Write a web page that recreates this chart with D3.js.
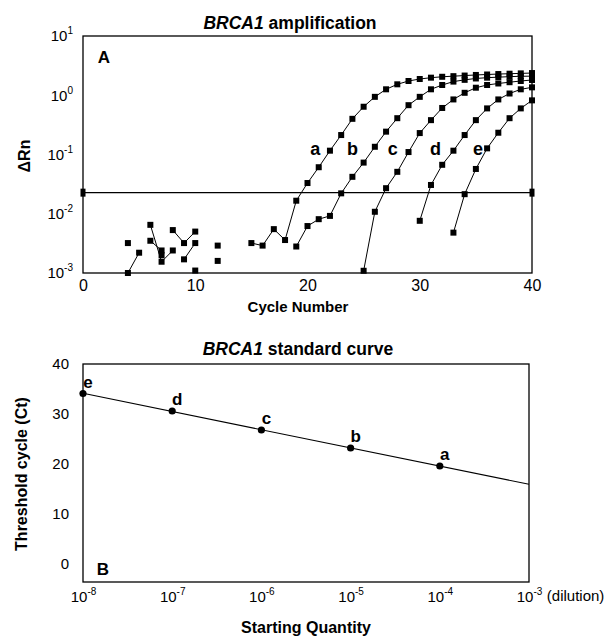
<!DOCTYPE html>
<html>
<head>
<meta charset="utf-8">
<script src="https://cdn.jsdelivr.net/npm/d3@7"></script>
<style>
  body { margin: 0; background: #fff; }
  svg text { font-family: "Liberation Sans", Arial, sans-serif; fill: #000; }
</style>
</head>
<body>
<div id="chart"></div>
<script>
// ---- panel A: amplification plot (delta Rn per cycle, null = not plotted) ----
const cycles = d3.range(1, 41);
const curveNames = ["a", "b", "c", "d", "e"];
const curveA = [null, null, null, 0.001, 0.0022, null, null, null, 0.0017, 0.0032,
                null, null, null, null, 0.0032, 0.0029, 0.0055, 0.0036, 0.0166, 0.033,
                0.061, 0.116, 0.213, 0.40, 0.64, 0.94, 1.26, 1.53, 1.74, 1.88,
                1.98, 2.05, 2.1, 2.15, 2.2, 2.24, 2.28, 2.31, 2.34, 2.37];
const curveB = [null, null, null, 0.0032, null, null, 0.0020, null, null, null,
                null, 0.0029, null, null, null, null, null, null, 0.0028, 0.0062,
                0.0081, 0.0092, 0.0221, 0.042, 0.073, 0.135, 0.243, 0.41, 0.68, 0.94,
                1.26, 1.49, 1.7, 1.82, 1.92, 1.98, 2.02, 2.06, 2.09, 2.1];
const curveC = [null, null, null, null, null, 0.0035, 0.0024, null, null, null,
                null, 0.0016, null, null, null, null, null, null, null, null,
                null, null, null, null, 0.00109, 0.0108, 0.027, 0.051, 0.11, 0.23,
                0.38, 0.61, 0.85, 1.1, 1.34, 1.49, 1.58, 1.66, 1.74, 1.81];
const curveD = [null, null, null, null, null, 0.0065, 0.00155, 0.0024, null, 0.0011,
                null, null, null, null, null, null, null, null, null, null,
                null, null, null, null, null, null, null, null, null, 0.0076,
                0.0306, 0.067, 0.116, 0.213, 0.38, 0.6, 0.85, 1.07, 1.26, 1.36];
const curveE = [null, null, null, null, null, null, null, 0.0053, 0.0032, 0.0050,
                null, null, null, null, null, null, null, null, null, null,
                null, null, null, null, null, null, null, null, null, null,
                null, null, 0.0048, 0.0214, 0.057, 0.127, 0.233, 0.41, 0.6, 0.82];
const curveValues = [curveA, curveB, curveC, curveD, curveE];
const threshold = 0.0227;
const curveLabelCycles = [20.7, 24.0, 27.6, 31.4, 35.2];
const curveLabelValue = 0.125;
const cycleTicks = [0, 10, 20, 30, 40];
const rnExponents = [-3, -2, -1, 0, 1];

// ---- panel B: standard curve ----
const stdNames = ["a", "b", "c", "d", "e"];
const stdDilutions = [1e-4, 1e-5, 1e-6, 1e-7, 1e-8];
const stdCt = [19.6, 23.2, 26.8, 30.6, 34.1];
const ctTicks = [0, 10, 20, 30, 40];
const dilutionExponents = [-8, -7, -6, -5, -4, -3];

const W = 614, H = 638;
const svg = d3.select("#chart").append("svg")
    .attr("width", W)
    .attr("height", H);

// superscript power-of-ten label
function powLabel(text, exp) {
    text.text(null);
    text.append("tspan").text("10");
    text.append("tspan").attr("dy", -7).attr("font-size", 10).text(exp);
}

// ================= Panel A =================
const xA = d3.scaleLinear().domain([0, 40]).range([83, 532]);
const yA = d3.scaleLog().domain([1e-3, 10]).range([273, 36]);

const gA = svg.append("g");

gA.append("text")
    .attr("x", 290).attr("y", 29)
    .attr("text-anchor", "middle")
    .attr("font-size", 17.5).attr("font-weight", "bold")
    .call(t => {
        t.append("tspan").attr("font-style", "italic").text("BRCA1");
        t.append("tspan").text(" amplification");
    });

// threshold line
gA.append("line")
    .attr("x1", xA(0)).attr("x2", xA(40))
    .attr("y1", yA(threshold)).attr("y2", yA(threshold))
    .attr("stroke", "#000").attr("stroke-width", 1.2);
gA.selectAll(".thr-end")
    .data([0, 40])
    .enter().append("rect")
    .attr("x", d => xA(d) - 2.5)
    .attr("y", yA(threshold) - 4)
    .attr("width", 5).attr("height", 8)
    .attr("fill", "#000");

const series = curveValues.map((vals, i) => ({
    name: curveNames[i],
    points: vals.map((v, j) => ({ cycle: cycles[j], v: v }))
}));

const lineA = d3.line()
    .defined(d => d.v != null)
    .x(d => xA(d.cycle))
    .y(d => yA(d.v));

gA.selectAll(".curve")
    .data(series)
    .enter().append("path")
    .attr("class", "curve")
    .attr("d", d => lineA(d.points))
    .attr("fill", "none")
    .attr("stroke", "#000")
    .attr("stroke-width", 1);

gA.selectAll(".pt")
    .data(series.flatMap(s => s.points.filter(p => p.v != null)))
    .enter().append("rect")
    .attr("x", d => xA(d.cycle) - 3)
    .attr("y", d => yA(d.v) - 3)
    .attr("width", 6).attr("height", 6)
    .attr("fill", "#000");

gA.selectAll(".clabel")
    .data(curveNames)
    .enter().append("text")
    .attr("x", (d, i) => xA(curveLabelCycles[i]))
    .attr("y", yA(curveLabelValue))
    .attr("dy", "0.35em")
    .attr("text-anchor", "middle")
    .attr("font-size", 18).attr("font-weight", "bold")
    .text(d => d);

// frame
gA.append("rect")
    .attr("x", 83).attr("y", 36)
    .attr("width", 532 - 83).attr("height", 273 - 36)
    .attr("fill", "none").attr("stroke", "#000").attr("stroke-width", 1.3);

const axA_y = gA.append("g")
    .attr("transform", "translate(83,0)")
    .call(d3.axisLeft(yA).tickValues(rnExponents.map(e => Math.pow(10, e))).tickSize(0).tickPadding(10));
axA_y.select(".domain").remove();
axA_y.selectAll(".tick text")
    .attr("font-size", 15).attr("font-family", null)
    .each(function(d, i) { powLabel(d3.select(this), rnExponents[i]); });

const axA_x = gA.append("g")
    .attr("transform", "translate(0,273)")
    .call(d3.axisBottom(xA).tickValues(cycleTicks).tickSize(0).tickPadding(7));
axA_x.select(".domain").remove();
axA_x.selectAll(".tick text").attr("font-size", 16).attr("font-family", null);

gA.append("text")
    .attr("x", 104).attr("y", 63)
    .attr("text-anchor", "middle")
    .attr("font-size", 17).attr("font-weight", "bold")
    .text("A");

gA.append("text")
    .attr("transform", "translate(30,156) rotate(-90)")
    .attr("text-anchor", "middle")
    .attr("font-size", 16).attr("font-weight", "bold")
    .text("\u0394Rn");

gA.append("text")
    .attr("x", 298).attr("y", 312)
    .attr("text-anchor", "middle")
    .attr("font-size", 15).attr("font-weight", "bold")
    .text("Cycle Number");

// ================= Panel B =================
const xB = d3.scaleLog().domain([1e-8, 1e-3]).range([83, 529]);
const yB = d3.scaleLinear().domain([-3.6, 40]).range([582, 364]);

const gB = svg.append("g");

gB.append("text")
    .attr("x", 298).attr("y", 355)
    .attr("text-anchor", "middle")
    .attr("font-size", 17.5).attr("font-weight", "bold")
    .call(t => {
        t.append("tspan").attr("font-style", "italic").text("BRCA1");
        t.append("tspan").text(" standard curve");
    });

// least-squares fit of Ct against log10(dilution)
const lx = stdDilutions.map(d => Math.log10(d));
const mx = d3.mean(lx), my = d3.mean(stdCt);
const slope = d3.sum(lx, (v, i) => (v - mx) * (stdCt[i] - my)) / d3.sum(lx, v => (v - mx) * (v - mx));
const intercept = my - slope * mx;
const fitEnds = xB.domain().map(d => ({ q: d, ct: intercept + slope * Math.log10(d) }));

gB.append("path")
    .datum(fitEnds)
    .attr("d", d3.line().x(d => xB(d.q)).y(d => yB(d.ct)))
    .attr("fill", "none").attr("stroke", "#000").attr("stroke-width", 1.1);

const stdPts = stdNames.map((n, i) => ({ name: n, q: stdDilutions[i], ct: stdCt[i] }));

gB.selectAll(".spt")
    .data(stdPts)
    .enter().append("circle")
    .attr("cx", d => xB(d.q))
    .attr("cy", d => yB(d.ct))
    .attr("r", 3.6)
    .attr("fill", "#000");

gB.selectAll(".slabel")
    .data(stdPts)
    .enter().append("text")
    .attr("x", d => xB(d.q) + 5)
    .attr("y", d => yB(d.ct) - 6)
    .attr("text-anchor", "middle")
    .attr("font-size", 17).attr("font-weight", "bold")
    .text(d => d.name);

gB.append("rect")
    .attr("x", 83).attr("y", 364)
    .attr("width", 529 - 83).attr("height", 582 - 364)
    .attr("fill", "none").attr("stroke", "#000").attr("stroke-width", 1.3);

const axB_y = gB.append("g")
    .attr("transform", "translate(83,0)")
    .call(d3.axisLeft(yB).tickValues(ctTicks).tickSize(0).tickPadding(14));
axB_y.select(".domain").remove();
axB_y.selectAll(".tick text").attr("font-size", 15).attr("font-family", null);

const axB_x = gB.append("g")
    .attr("transform", "translate(0,582)")
    .call(d3.axisBottom(xB).tickValues(dilutionExponents.map(e => Math.pow(10, e))).tickSize(0).tickPadding(9));
axB_x.select(".domain").remove();
axB_x.selectAll(".tick text")
    .attr("font-size", 15).attr("font-family", null)
    .each(function(d, i) { powLabel(d3.select(this), dilutionExponents[i]); });

// "(dilution)" after the last tick label, on the same baseline as "10"
const lastTick = axB_x.selectAll(".tick text").filter((d, i) => i === dilutionExponents.length - 1);
const lastW = lastTick.node().getComputedTextLength();
const firstSpan = lastTick.select("tspan").node().getBBox();
gB.append("text")
    .attr("x", xB(1e-3) + lastW / 2 + 5)
    .attr("y", 582 + firstSpan.y + firstSpan.height * 0.78)
    .attr("font-size", 15)
    .text("(dilution)");

gB.append("text")
    .attr("x", 103).attr("y", 575)
    .attr("text-anchor", "middle")
    .attr("font-size", 17).attr("font-weight", "bold")
    .text("B");

gB.append("text")
    .attr("transform", "translate(27,474) rotate(-90)")
    .attr("text-anchor", "middle")
    .attr("font-size", 16).attr("font-weight", "bold")
    .text("Threshold cycle (Ct)");

gB.append("text")
    .attr("x", 306).attr("y", 633)
    .attr("text-anchor", "middle")
    .attr("font-size", 16).attr("font-weight", "bold")
    .text("Starting Quantity");
</script>
</body>
</html>
